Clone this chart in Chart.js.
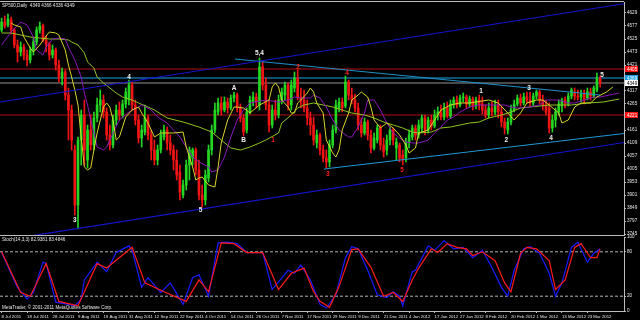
<!DOCTYPE html>
<html>
<head>
<meta charset="utf-8">
<script src="https://cdn.jsdelivr.net/npm/chart.js@4/dist/chart.umd.min.js"></script>
<style>
html, body { margin: 0; padding: 0; background: #000; }
#wrap { position: relative; width: 640px; height: 320px; background: #000; overflow: hidden; }
#priceChart { position: absolute; left: 0; top: 0; }
#stochChart { position: absolute; left: 0; top: 233px; }
</style>
</head>
<body>
<div id="wrap">
  <canvas id="priceChart" width="640" height="237"></canvas>
  <canvas id="stochChart" width="640" height="87"></canvas>
</div>
<script>
// ---- data ----
const dateLabels = ['8 Jul 2011', '18 Jul 2011', '28 Jul 2011', '9 Aug 2011', '19 Aug 2011', '31 Aug 2011',
  '12 Sep 2011', '22 Sep 2011', '4 Oct 2011', '14 Oct 2011', '26 Oct 2011', '7 Nov 2011', '17 Nov 2011',
  '29 Nov 2011', '9 Dec 2011', '21 Dec 2011', '4 Jan 2012', '17 Jan 2012', '27 Jan 2012', '8 Feb 2012',
  '20 Feb 2012', '1 Mar 2012', '13 Mar 2012', '23 Mar 2012'];
const barsPerLabel = 8;

const priceTicks = [4629, 4577, 4525, 4473, 4421, 4369, 4317, 4265, 4213, 4161, 4109, 4057, 4005, 3953, 3901, 3849, 3797, 3745];
const stochTicks = [0, 20, 80, 100];

const opens = [
  4561,4593,4581,4601,4561,4501,4473,4493,4461,4441, 4481,4513,4561,4577,4521,4505,4461,4481,4421,4369,
  4393,4301,4241,4081,3861,4121,4221,4041,4161,4101, 4209,4261,4281,4233,4141,4101,4201,4241,4221,4265,
  4281,4341,4261,4201,4129,4153,4209,4141,4081,4041, 4081,4133,4161,4109,4081,4041,3993,3901,3941,4021,
  4049,4081,4001,3901,3881,3969,4081,4161,4233,4269, 4241,4273,4249,4289,4301,4249,4209,4161,4233,4273,
  4293,4261,4413,4341,4261,4181,4241,4221,4281,4301, 4341,4261,4329,4369,4293,4281,4249,4209,4181,4109,
  4141,4081,4049,4033,4101,4161,4249,4273,4257,4353, 4301,4281,4249,4181,4149,4193,4141,4089,4121,4169,
  4101,4081,4121,4161,4089,4101,4061,4049,4113,4133, 4169,4141,4169,4209,4161,4201,4177,4221,4233,4213,
  4249,4217,4265,4281,4261,4289,4293,4265,4285,4257, 4281,4265,4241,4221,4249,4233,4261,4233,4193,4161,
  4193,4241,4265,4289,4269,4293,4281,4269,4297,4313, 4281,4261,4249,4169,4201,4233,4257,4281,4265,4297,
  4313,4297,4293,4305,4289,4313,4297,4321,4369];
const highs = [
  4609,4617,4625,4613,4569,4521,4513,4505,4481,4493, 4529,4573,4593,4585,4537,4513,4501,4489,4441,4409,
  4401,4329,4261,4101,4133,4241,4281,4181,4221,4233, 4289,4321,4301,4249,4181,4221,4261,4273,4281,4329,
  4361,4353,4281,4221,4181,4261,4221,4161,4121,4101, 4161,4181,4173,4141,4101,4081,4021,3961,4041,4093,
  4089,4089,4041,3941,4001,4101,4181,4269,4289,4293, 4293,4289,4301,4313,4309,4265,4225,4249,4297,4313,
  4309,4449,4433,4369,4281,4261,4281,4301,4329,4353, 4349,4361,4393,4401,4329,4321,4281,4233,4213,4161,
  4149,4101,4081,4121,4181,4281,4289,4289,4377,4361, 4329,4305,4269,4209,4209,4201,4161,4149,4181,4181,
  4129,4141,4173,4169,4129,4109,4081,4129,4161,4181, 4181,4201,4221,4221,4213,4221,4241,4253,4261,4269,
  4273,4281,4293,4297,4301,4309,4301,4297,4293,4293, 4301,4293,4261,4269,4273,4281,4281,4253,4209,4209,
  4261,4281,4301,4305,4309,4313,4313,4309,4321,4321, 4301,4281,4269,4221,4249,4281,4289,4293,4309,4329,
  4329,4321,4321,4321,4329,4329,4337,4389,4377];
const lows = [
  4553,4569,4573,4545,4489,4433,4457,4441,4417,4429, 4461,4501,4549,4513,4473,4441,4449,4401,4353,4341,
  4281,4121,4081,3821,3765,4021,4021,4009,4081,4081, 4193,4233,4209,4121,4081,4089,4181,4201,4209,4249,
  4261,4241,4181,4109,4093,4141,4121,4041,4021,4021, 4069,4121,4081,4061,4001,3961,3881,3889,3921,3961,
  4021,3981,3881,3853,3861,3953,4061,4149,4221,4221, 4233,4229,4241,4273,4233,4193,4137,4149,4225,4257,
  4249,4241,4321,4241,4153,4169,4201,4209,4265,4281, 4241,4241,4313,4281,4249,4233,4181,4141,4101,4089,
  4061,4033,4009,4013,4089,4149,4233,4233,4249,4281, 4265,4233,4161,4133,4141,4121,4069,4081,4109,4081,
  4053,4061,4101,4101,4041,4033,4021,4033,4089,4121, 4121,4129,4153,4141,4149,4161,4169,4201,4201,4201,
  4209,4209,4249,4249,4253,4273,4249,4253,4241,4245, 4241,4225,4209,4209,4217,4221,4209,4173,4145,4145,
  4181,4233,4257,4257,4261,4269,4257,4257,4285,4265, 4241,4221,4149,4153,4173,4221,4233,4249,4257,4285,
  4281,4281,4273,4265,4281,4281,4289,4313,4333];
const closes = [
  4593,4577,4605,4561,4501,4473,4493,4461,4441,4481, 4513,4561,4577,4521,4505,4461,4481,4421,4369,4393,
  4301,4241,4121,3861,4121,4221,4081,4161,4101,4209, 4261,4281,4233,4141,4101,4201,4241,4221,4265,4313,
  4341,4261,4201,4129,4161,4209,4141,4081,4041,4081, 4141,4161,4109,4081,4041,3981,3913,3941,4021,4081,
  4081,4001,3901,3881,3981,4081,4161,4241,4269,4241, 4273,4249,4289,4301,4249,4209,4153,4233,4281,4293,
  4273,4413,4341,4261,4181,4241,4221,4281,4313,4341, 4261,4341,4369,4293,4281,4249,4209,4181,4121,4141,
  4081,4049,4033,4101,4161,4261,4273,4249,4353,4301, 4281,4249,4181,4149,4193,4141,4089,4129,4169,4101,
  4073,4121,4161,4121,4113,4049,4041,4113,4141,4169, 4141,4181,4209,4161,4201,4177,4221,4233,4213,4249,
  4217,4265,4281,4261,4289,4293,4265,4285,4257,4281, 4261,4241,4221,4249,4233,4261,4233,4193,4169,4193,
  4241,4265,4289,4269,4293,4281,4269,4297,4313,4281, 4261,4233,4169,4201,4233,4265,4281,4265,4297,4321,
  4297,4293,4305,4281,4313,4297,4329,4369,4349];

// moving averages: [bar, price]
const fastMA = [[3,4589],[4,4581],[6,4573],[7,4533],[9,4489],[10,4473],[12,4501],[14,4537],[15,4553],[17,4549],
  [18,4541],[20,4481],[21,4421],[22,4373],[23,4321],[24,4261],[25,4133],[26,4013],[27,4001],[28,4009],[29,4081],
  [30,4149],[31,4201],[32,4253],[33,4269],[34,4253],[35,4201],[36,4121],[37,4133],[38,4173],[39,4213],[41,4241],
  [43,4253],[44,4229],[46,4189],[48,4133],[50,4149],[52,4149],[54,4149],[57,4153],[58,4093],[60,4013],[61,3961],
  [62,3969],[63,3973],[65,3941],[67,3933],[68,4013],[69,4109],[71,4201],[73,4253],[74,4253],[76,4249],[78,4229],
  [81,4261],[84,4281],[85,4333],[86,4349],[87,4333],[88,4281],[90,4253],[91,4229],[92,4229],[93,4269],[94,4281],
  [96,4309],[97,4329],[98,4313],[99,4269],[101,4229],[102,4121],[104,4069],[105,4053],[106,4081],[107,4161],
  [109,4229],[110,4281],[112,4301],[113,4313],[115,4293],[116,4253],[117,4201],[119,4169],[121,4189],[123,4169],
  [125,4141],[127,4101],[128,4069],[130,4089],[131,4149],[134,4161],[136,4201],[138,4241],[141,4261],[144,4269],
  [147,4269],[149,4273],[153,4281],[156,4269],[159,4229],[161,4201],[163,4229],[165,4269],[168,4281],[170,4281],
  [172,4261],[175,4229],[176,4189],[178,4201],[180,4253],[182,4269],[185,4269],[187,4293],[190,4313],[192,4333]];
const midMA = [[0,4501],[3,4553],[6,4593],[8,4581],[10,4533],[11,4481],[13,4461],[14,4493],[16,4525],[18,4529],
  [20,4525],[21,4493],[23,4441],[25,4373],[26,4309],[27,4261],[28,4201],[29,4149],[30,4093],[32,4081],[33,4093],
  [35,4149],[37,4201],[40,4233],[43,4253],[44,4261],[47,4241],[49,4213],[52,4189],[54,4161],[56,4133],[58,4093],
  [60,4053],[62,4033],[65,4013],[66,3993],[68,4001],[70,4053],[72,4133],[74,4201],[76,4241],[78,4269],[83,4281],
  [87,4273],[90,4281],[92,4293],[94,4289],[97,4289],[98,4301],[100,4289],[102,4253],[104,4201],[106,4161],
  [109,4133],[110,4133],[112,4173],[114,4229],[115,4281],[117,4281],[119,4241],[121,4189],[123,4149],[125,4129],
  [127,4113],[129,4109],[131,4109],[134,4121],[136,4149],[138,4173],[140,4201],[142,4213],[144,4233],[147,4253],
  [150,4261],[154,4261],[158,4261],[160,4253],[162,4249],[166,4253],[169,4261],[171,4281],[175,4281],[178,4269],
  [180,4269],[183,4281],[186,4293],[188,4293],[191,4301],[194,4309]];
const slowMA = [[0,4549],[3,4549],[6,4541],[9,4533],[12,4529],[15,4525],[18,4525],[21,4521],[22,4513],[24,4501],
  [26,4469],[27,4433],[29,4409],[30,4373],[32,4349],[34,4329],[36,4309],[38,4293],[41,4281],[43,4269],[46,4253],
  [48,4241],[52,4209],[57,4193],[62,4173],[66,4153],[69,4121],[72,4089],[75,4081],[78,4093],[81,4109],[83,4121],
  [87,4149],[88,4189],[91,4221],[93,4249],[95,4261],[98,4269],[101,4261],[104,4253],[107,4241],[110,4229],
  [114,4221],[117,4209],[120,4193],[123,4181],[126,4169],[129,4153],[131,4149],[135,4153],[138,4169],[141,4173],
  [144,4181],[147,4189],[150,4193],[153,4209],[157,4221],[160,4233],[163,4249],[166,4253],[172,4261],[179,4261],
  [184,4269],[189,4273],[194,4285]];

// stochastic %K and %D: [bar, value]
const stochK = [[0,79],[5,32],[8,16],[10,25],[13,66],[14,64],[17,12],[21,9],[23,7],[25,16],[26,42],[30,66],
  [33,53],[36,79],[40,88],[41,82],[44,32],[46,45],[50,25],[53,38],[57,9],[60,45],[62,49],[65,20],[68,92],[71,93],
  [74,91],[77,79],[82,79],[85,29],[90,55],[92,51],[94,62],[97,42],[100,9],[102,4],[105,22],[108,72],[110,87],
  [112,84],[115,55],[118,22],[121,18],[123,26],[125,20],[126,7],[128,38],[129,53],[130,55],[134,88],[136,82],
  [139,95],[142,84],[145,86],[148,72],[151,82],[154,59],[157,32],[159,20],[161,55],[164,84],[166,87],[169,78],
  [172,51],[174,20],[176,38],[179,86],[181,93],[184,66],[186,78],[188,84]];
const stochD = [[0,80],[6,25],[9,20],[14,64],[18,13],[24,7],[26,26],[30,64],[33,58],[41,86],[45,38],[51,26],
  [58,13],[62,42],[65,26],[69,92],[73,91],[77,79],[82,79],[87,29],[91,51],[95,58],[98,26],[100,13],[103,5],
  [106,33],[110,83],[112,84],[116,59],[120,20],[123,25],[126,13],[129,42],[131,58],[135,84],[137,79],[140,91],
  [143,86],[146,84],[148,75],[151,80],[155,68],[158,38],[160,26],[163,78],[165,86],[168,84],[172,68],[174,29],
  [177,42],[180,86],[182,91],[185,72],[187,72],[188,84]];
const stochLevels = [20, 80];

// horizontal price levels
const levelPrices = [4405, 4369, 4349, 4221];

// trend lines: [fromBar, fromPrice, toBar, toPrice]
const channelUpper = [-0.5, 4273, 195.5, 4666];
const channelLower = [-0.5, 3718, 195.5, 4111];
const resistance = [73.3, 4445, 188, 4301];
const support = [101.3, 4005, 195.5, 4147];

// wave labels
const waveText = ['3', '4', '5', 'A', 'B', '5,4', '1', '2', '3', '4', '5', '1', '2', '3', '4', '5'];
const waveIdx = [23, 40, 62.5, 73, 76, 81, 150.6, 158.5, 165.7, 172.6, 188.6, 85.3, 93.1, 102.5, 108.5, 125.8];
const wavePrice = [3801, 4373, 3841, 4329, 4121, 4469, 4317, 4121, 4329, 4129, 4381, 4121, 4413, 3985, 4389, 4001];
const waveDegree = [0, 0, 0, 0, 0, 0, 0, 0, 0, 0, 0, 1, 1, 1, 1, 1];

const titleText = 'SP500,Daily  4349 4366 4336 4349';
const stochText = 'Stoch(14,3,3) 82.9381 83.4846';
const footerText = 'MetaTrader, \u00a9 2001-2011 MetaQuotes Software Corp.';

// ---- styles ----
const xMin = -0.5, xMax = 195.5;
const smallFont = '"Liberation Sans Narrow", "Liberation Sans"';
const axisFont = { family: smallFont, size: 4.6 };
const dateFont = { family: smallFont, size: 4.3 };
const bull = '#22d622', bear = '#f01414';
const levelLine = ['#b01010', '#1aa3e8', '#949494', '#b01010'];
const levelBox = ['#ff1010', '#1a9fe6', '#ffffff', '#ff1010'];
const levelBoxText = ['#ffffff', '#ffffff', '#000000', '#ffffff'];

const barIdx = opens.map((_, i) => i);
const candleColor = ctx => closes[ctx.dataIndex] >= opens[ctx.dataIndex] ? bull : bear;
const pairs = arr => arr.map(p => ({ x: p[0], y: p[1] }));
const seg = t => [{ x: t[0], y: t[1] }, { x: t[2], y: t[3] }];

function lineSet(data, color, width, order, extra) {
    return Object.assign({
        type: 'line', data, borderColor: color, borderWidth: width, pointRadius: 0,
        pointHoverRadius: 0, fill: false, tension: 0, order
    }, extra || {});
}

const priceDecor = {
    id: 'priceDecor',
    afterDatasetsDraw(chart) {
        const { ctx, scales: { x, y } } = chart;
        ctx.save();
        ctx.font = 'bold 6.5px "Liberation Sans"';
        ctx.textAlign = 'center';
        ctx.textBaseline = 'middle';
        waveText.forEach((t, k) => {
            ctx.fillStyle = waveDegree[k] ? '#ff2020' : '#f2f2f2';
            ctx.fillText(t, x.getPixelForValue(waveIdx[k]), y.getPixelForValue(wavePrice[k]));
        });
        ctx.restore();
    },
    afterDraw(chart) {
        const { ctx, chartArea: a, scales: { y } } = chart;
        ctx.save();
        ctx.strokeStyle = '#bdbdbd';
        ctx.lineWidth = 1;
        ctx.beginPath();
        ctx.moveTo(0, a.top - 0.5); ctx.lineTo(a.right, a.top - 0.5);
        ctx.moveTo(0, a.bottom + 0.5); ctx.lineTo(a.right, a.bottom + 0.5);
        ctx.stroke();
        // price boxes on the right scale
        ctx.font = '4.6px ' + smallFont;
        ctx.textBaseline = 'middle';
        ctx.textAlign = 'left';
        levelPrices.forEach((p, k) => {
            const py = Math.round(y.getPixelForValue(p));
            ctx.fillStyle = levelBox[k];
            ctx.fillRect(a.right + 1, py - 3, 13, 6);
            ctx.fillStyle = levelBoxText[k];
            ctx.fillText(String(p), a.right + 3, py + 0.5);
        });
        ctx.fillStyle = '#e6e6e6';
        ctx.fillText(titleText, 2, a.top + 4);
        ctx.restore();
    }
};

const stochDecor = {
    id: 'stochDecor',
    afterDraw(chart) {
        const { ctx, chartArea: a } = chart;
        ctx.save();
        ctx.strokeStyle = '#bdbdbd';
        ctx.lineWidth = 1;
        ctx.beginPath();
        ctx.moveTo(0, a.bottom + 0.5); ctx.lineTo(a.right, a.bottom + 0.5);
        ctx.stroke();
        ctx.font = '4.6px ' + smallFont;
        ctx.textAlign = 'left';
        ctx.textBaseline = 'middle';
        ctx.fillStyle = '#e6e6e6';
        ctx.fillText(stochText, 2, a.top + 3);
        ctx.fillText(footerText, 2, a.bottom - 3);
        ctx.restore();
    }
};

const priceChart = new Chart(document.getElementById('priceChart'), {
    type: 'bar',
    data: {
        datasets: [
            ...levelPrices.map((p, k) => lineSet([{ x: xMin, y: p }, { x: xMax, y: p }], levelLine[k], 1, 20)),
            {
                label: 'wicks', data: barIdx.map(i => ({ x: i, y: [lows[i], highs[i]] })),
                backgroundColor: candleColor, barThickness: 1, grouped: false, order: 12
            },
            {
                label: 'bodies', data: barIdx.map(i => ({ x: i, y: [opens[i], closes[i]] })),
                backgroundColor: candleColor, barThickness: 2, grouped: false, minBarLength: 1, order: 11
            },
            lineSet(pairs(slowMA), '#8fc31f', 1, 6),
            lineSet(pairs(midMA), '#8a18b8', 1, 5),
            lineSet(pairs(fastMA), '#d6d62a', 1, 4),
            lineSet(seg(channelUpper), '#1414d2', 1.2, 2),
            lineSet(seg(channelLower), '#1414d2', 1.2, 2),
            lineSet(seg(resistance), '#1f8fc8', 1.2, 2),
            lineSet(seg(support), '#1f97d4', 1.2, 2)
        ]
    },
    options: {
        responsive: false,
        animation: false,
        events: [],
        layout: { padding: { top: 2, bottom: 2, left: 0, right: 0 } },
        plugins: { legend: { display: false }, tooltip: { enabled: false } },
        scales: {
            x: { type: 'linear', min: xMin, max: xMax, offset: false, display: false },
            y: {
                position: 'right', min: 3741, max: 4673,
                afterBuildTicks: s => { s.ticks = priceTicks.map(v => ({ value: v })); },
                afterFit: s => { s.width = 16; s.paddingTop = 0; s.paddingBottom = 0; },
                ticks: { color: '#e6e6e6', font: axisFont, padding: 1, callback: v => String(v) },
                grid: { drawOnChartArea: false, tickLength: 2, color: '#bdbdbd' },
                border: { color: '#bdbdbd' }
            }
        }
    },
    plugins: [priceDecor]
});

const stochChart = new Chart(document.getElementById('stochChart'), {
    type: 'line',
    data: {
        datasets: [
            ...stochLevels.map(v => lineSet([{ x: xMin, y: v }, { x: xMax, y: v }], '#b4b4b4', 1, 5, { borderDash: [3, 2] })),
            lineSet(pairs(stochK), '#1a1aff', 1.2, 1),
            lineSet(pairs(stochD), '#ff1a1a', 1.2, 0)
        ]
    },
    options: {
        responsive: false,
        animation: false,
        events: [],
        layout: { padding: { top: 4, bottom: 0, left: 0, right: 0 } },
        plugins: { legend: { display: false }, tooltip: { enabled: false } },
        scales: {
            x: {
                type: 'linear', min: xMin, max: xMax, offset: false,
                afterBuildTicks: s => { s.ticks = dateLabels.map((_, k) => ({ value: k * barsPerLabel })); },
                afterFit: s => { s.height = 9; s.paddingLeft = 0; s.paddingRight = 0; },
                ticks: {
                    color: '#e6e6e6', font: dateFont, padding: 1, align: 'start', maxRotation: 0, autoSkip: false,
                    callback: (v, idx) => dateLabels[idx]
                },
                grid: { drawOnChartArea: false, tickLength: 2, color: '#bdbdbd' },
                border: { color: '#bdbdbd' }
            },
            y: {
                position: 'right', min: 0, max: 100,
                afterBuildTicks: s => { s.ticks = stochTicks.map(v => ({ value: v })); },
                afterFit: s => { s.width = 16; s.paddingTop = 0; s.paddingBottom = 0; },
                ticks: { color: '#e6e6e6', font: axisFont, padding: 1, callback: v => String(v) },
                grid: { drawOnChartArea: false, tickLength: 2, color: '#bdbdbd' },
                border: { color: '#bdbdbd' }
            }
        }
    },
    plugins: [stochDecor]
});
</script>
</body>
</html>
